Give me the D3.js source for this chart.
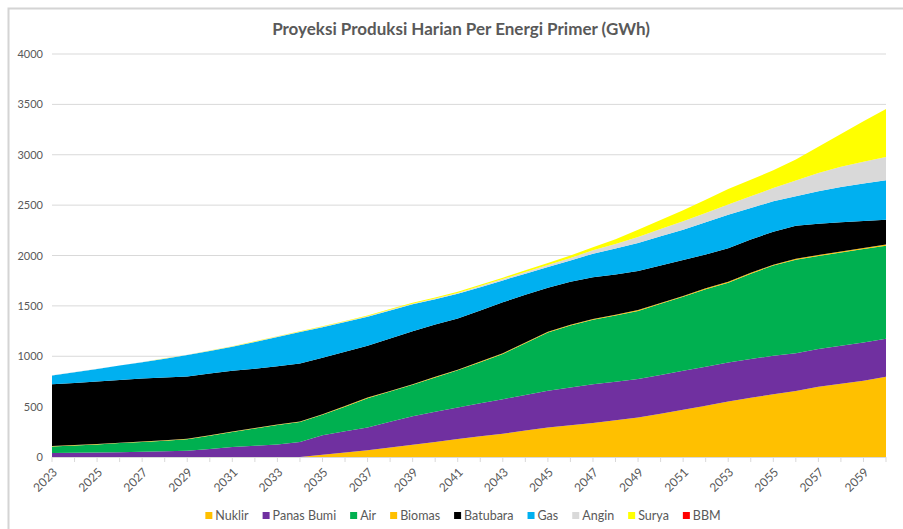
<!DOCTYPE html>
<html>
<head>
<meta charset="utf-8">
<script src="https://cdn.jsdelivr.net/npm/d3@7/dist/d3.min.js"></script>
<style>
  body { margin: 0; background: #fff; }
  svg { display: block; font-family: Lato, "Open Sans", sans-serif; }
</style>
</head>
<body>
<svg id="chart" width="903" height="529"></svg>
<script>
// data (GWh per day)
const years = [2023,2024,2025,2026,2027,2028,2029,2030,2031,2032,2033,2034,2035,2036,2037,2038,2039,2040,2041,
               2042,2043,2044,2045,2046,2047,2048,2049,2050,2051,2052,2053,2054,2055,2056,2057,2058,2059,2060];

const nuklir    = [0,0,0,0,0,0,0,0,0,0,0,0,22,45,68,95,122,150,178,205,232,262,292,315,338,365,391,430,468,509,550,587,624,655,697,727,756,796];
const panasBumi = [40,42,44,48,52,57,62,80,100,112,125,150,193,210,224,255,283,300,313,328,342,353,365,375,385,383,382,385,388,388,388,385,381,375,375,378,381,378];
const air       = [65,73,81,90,98,105,113,130,148,171,193,197,205,245,292,300,311,340,369,407,448,515,578,615,639,657,677,705,734,768,792,848,895,928,923,925,928,924];
const biomas    = [4,4,4,4,4,4,5,5,5,5,5,5,5,6,6,6,6,6,7,7,7,7,7,8,8,8,8,8,8,9,9,9,9,9,10,10,10,10];
const batubara  = [613,616,621,623,624,624,620,613,602,587,577,576,560,539,514,519,525,519,508,508,506,473,438,427,415,399,387,372,357,336,333,331,326,328,311,290,268,248];
const gas       = [88,107,124,142,162,185,212,224,239,267,292,312,303,295,289,280,268,250,245,231,218,210,206,210,233,258,279,290,301,320,333,312,303,293,321,350,372,391];
const angin     = [1,1,1,1,2,2,2,2,3,3,3,4,4,5,5,6,7,8,9,11,13,16,20,26,33,45,60,72,83,92,100,116,132,156,183,200,215,230];
const surya     = [1,1,1,1,1,2,2,2,2,3,3,3,5,6,6,7,8,9,10,12,14,17,19,24,30,47,72,90,109,132,156,165,176,208,259,326,403,478];
const bbm       = [0,0,0,0,0,0,0,0,0,0,0,0,0,0,0,0,0,0,0,0,0,0,0,0,0,0,0,0,0,0,0,0,0,0,0,0,0,0];

const seriesNames = ["Nuklir","Panas Bumi","Air","Biomas","Batubara","Gas","Angin","Surya","BBM"];
const seriesValues = [nuklir, panasBumi, air, biomas, batubara, gas, angin, surya, bbm];
const seriesColors = ["#FFC000","#7030A0","#00B050","#FFC000","#000000","#00B0F0","#D9D9D9","#FFFF00","#FF0000"];
const yTicks = [0,500,1000,1500,2000,2500,3000,3500,4000];

const svg = d3.select("#chart");
const plot = {left: 52, right: 886, top: 54, bottom: 457};

// outer frame of the excel chart (cut off at right and bottom)
svg.append("rect")
  .attr("x", 8.5).attr("y", 8.5)
  .attr("width", 910).attr("height", 540)
  .attr("fill", "none").attr("stroke", "#d4d4d4").attr("stroke-width", 2);

svg.append("text")
  .text("Proyeksi Produksi Harian Per Energi Primer (GWh)")
  .attr("x", 461).attr("y", 35)
  .attr("text-anchor", "middle")
  .style("font-size", "17px").style("font-weight", "bold")
  .style("fill", "#595959");

const rows = years.map((yr, i) => {
  const r = {year: yr};
  seriesNames.forEach((n, k) => r[n] = seriesValues[k][i]);
  return r;
});

const x = d3.scalePoint().domain(years).range([plot.left, plot.right]);
const y = d3.scaleLinear().domain([0, 4000]).range([plot.bottom, plot.top]);

// gridlines
svg.append("g").selectAll("line")
  .data(yTicks.slice(1))
  .join("line")
  .attr("x1", plot.left).attr("x2", plot.right)
  .attr("y1", d => y(d)).attr("y2", d => y(d))
  .attr("stroke", "#d9d9d9").attr("stroke-width", 1);

svg.append("g").selectAll("text")
  .data(yTicks)
  .join("text")
  .text(d => d)
  .attr("x", 43).attr("y", d => y(d) + 4)
  .attr("text-anchor", "end")
  .style("font-size", "11px").style("fill", "#595959");

const stacked = d3.stack().keys(seriesNames)(rows);
const area = d3.area()
  .x(d => x(d.data.year))
  .y0(d => y(d[0]))
  .y1(d => y(d[1]));

svg.append("g").selectAll("path")
  .data(stacked)
  .join("path")
  .attr("d", area)
  .attr("fill", (d, i) => seriesColors[i]);

// category axis
svg.append("line")
  .attr("x1", plot.left).attr("x2", plot.right)
  .attr("y1", plot.bottom + 0.5).attr("y2", plot.bottom + 0.5)
  .attr("stroke", "#d9d9d9");

svg.append("g").selectAll("line")
  .data(years)
  .join("line")
  .attr("x1", d => x(d)).attr("x2", d => x(d))
  .attr("y1", plot.bottom).attr("y2", plot.bottom + 5)
  .attr("stroke", "#d9d9d9");

svg.append("g").selectAll("text")
  .data(years.filter((d, i) => i % 2 == 0))
  .join("text")
  .text(d => d)
  .attr("text-anchor", "end")
  .attr("transform", d => `translate(${x(d) + 6}, ${plot.bottom + 16}) rotate(-45)`)
  .style("font-size", "12px").style("fill", "#595959");

// legend
const legend = svg.append("g");
let lx = 0;
seriesNames.forEach((n, i) => {
  const item = legend.append("g").attr("transform", `translate(${lx}, 0)`);
  item.append("rect")
    .attr("x", 0).attr("y", -4)
    .attr("width", 7).attr("height", 7)
    .attr("fill", seriesColors[i]);
  const t = item.append("text")
    .text(n)
    .attr("x", 10).attr("y", 4)
    .style("font-size", "12.5px").style("fill", "#595959");
  lx += 10 + t.node().getComputedTextLength() + 14;
});
const legendWidth = lx - 14;
legend.attr("transform", `translate(${463 - legendWidth / 2}, 516)`);
</script>
</body>
</html>
